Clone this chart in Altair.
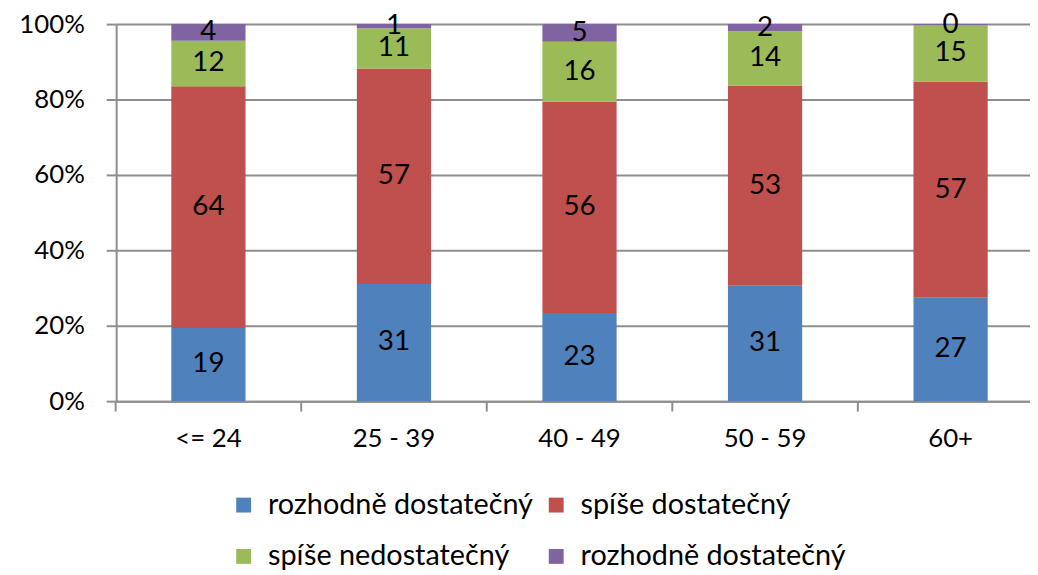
import altair as alt
import pandas as pd

categories = ["<= 24", "25 - 39", "40 - 49", "50 - 59", "60+"]
series_keys = ["s1", "s2", "s3", "s4"]
series_labels = ["rozhodně dostatečný", "spíše dostatečný", "spíše nedostatečný", "rozhodně dostatečný"]
colors = ["#4F81BD", "#C0504D", "#9BBB59", "#8064A2"]
s1 = [19.4, 31.1, 23.4, 30.6, 27.4]
s2 = [64.0, 57.1, 56.1, 53.1, 57.3]
s3 = [12.1, 10.7, 15.8, 14.4, 15.0]
s4 = [4.4, 1.1, 4.7, 1.9, 0.3]
y_ticks = [0, 0.2, 0.4, 0.6, 0.8, 1.0]

rows = []
for k, (key, vals) in enumerate(zip(series_keys, [s1, s2, s3, s4])):
    for cat, v in zip(categories, vals):
        rows.append({"cat": cat, "key": key, "order": k, "value": v})
df = pd.DataFrame(rows)

# legend is filled column by column: reorder so rows read s1 s2 / s3 s4
legend_order = [0, 2, 1, 3]
dom = [series_keys[i] for i in legend_order]
rng = [colors[i] for i in legend_order]

FONT = "Lato"
GRAY = "#8E8E8E"

label_expr = " : ".join(
    f"datum.value == '{k}' ? '{l}'" for k, l in zip(series_keys, series_labels)
) + " : ''"

base = alt.Chart(df).transform_stack(
    stack="value", groupby=["cat"], as_=["v0", "v1"], offset="normalize",
    sort=[alt.SortField("order", "ascending")]
).transform_calculate(mid="(datum.v0 + datum.v1) / 2")

xscale = alt.Scale(paddingInner=0.6, paddingOuter=0.2626, align=0.566)

bars = base.mark_bar().encode(
    x=alt.X("cat:N", sort=categories, scale=xscale, title=None,
            axis=alt.Axis(orient="bottom", ticks=False, labelAngle=0, labelFontSize=26,
                          labelPadding=25, domainColor=GRAY, domainWidth=2, labelColor="black",
                          labelFont=FONT)),
    y=alt.Y("v0:Q", scale=alt.Scale(domain=[0, 1], nice=False), title=None,
            axis=alt.Axis(format="%", values=y_ticks, labelFontSize=26, labelFont=FONT,
                          labelColor="black", tickSize=10, tickColor=GRAY, tickWidth=2,
                          domainColor=GRAY, domainWidth=2, gridColor=GRAY, gridWidth=2,
                          labelPadding=22, minExtent=105, maxExtent=105)),
    y2="v1:Q",
    color=alt.Color("key:N", scale=alt.Scale(domain=dom, range=rng), title=None,
                    legend=alt.Legend(orient="none", legendX=114, legendY=470, columns=2,
                                      symbolType="square", symbolSize=225, symbolStrokeWidth=0,
                                      labelFontSize=29, labelFont=FONT, labelColor="black",
                                      labelOffset=10, rowPadding=22, columnPadding=8,
                                      labelExpr=label_expr, labelLimit=400)),
    order=alt.Order("order:Q"),
)

texts = base.mark_text(fontSize=28, font=FONT, color="black").encode(
    x=alt.X("cat:N", sort=categories, scale=xscale, title=None,
            axis=alt.Axis(orient="bottom", labels=False, domain=False, ticks=True, tickSize=10,
                          tickColor=GRAY, tickWidth=2, bandPosition=-0.75)),
    y=alt.Y("mid:Q"),
    text=alt.Text("value:Q", format=".0f"),
)

chart = alt.layer(bars, texts).resolve_axis(x="independent").properties(
    width=921, height=380,
    padding={"left": 4, "top": 0, "right": 0, "bottom": 0},
).configure_view(stroke=None)

chart.save("out.html", embed_options={"renderer": "svg", "actions": False})
